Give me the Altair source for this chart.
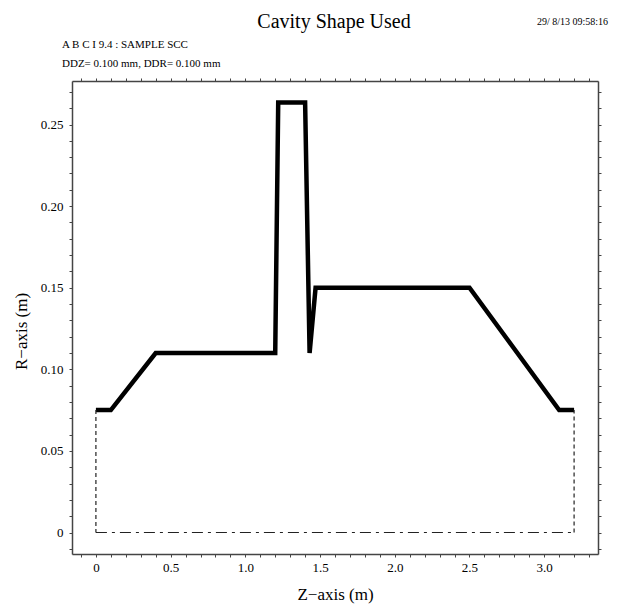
import altair as alt
import pandas as pd

# Cavity profile (z in m, r in m)
z_wall = [0.0, 0.1, 0.4, 1.2, 1.22, 1.4, 1.43, 1.47, 2.5, 3.1, 3.2]
r_wall = [0.075, 0.075, 0.11, 0.11, 0.2635, 0.2635, 0.11, 0.15, 0.15, 0.075, 0.075]

# Dashed end lines and dash-dot axis line
z_left = [0.0, 0.0]
r_left = [0.075, 0.0]
z_right = [3.2, 3.2]
r_right = [0.0, 0.075]
z_axisline = [0.0, 3.2]
r_axisline = [0.0, 0.0]

x_ticks = [round(-0.1 + 0.1 * i, 1) for i in range(35)]
y_ticks = [round(-0.01 + 0.01 * i, 2) for i in range(29)]

title_text = "Cavity Shape Used"
date_text = "29/ 8/13  09:58:16"
info1 = "A B C I 9.4 :  SAMPLE SCC"
info2 = "DDZ= 0.100 mm,  DDR= 0.100 mm"

FONT = "Liberation Serif"

wall = pd.DataFrame({"z": z_wall, "r": r_wall, "i": range(len(z_wall))})
left = pd.DataFrame({"z": z_left, "r": r_left, "i": [0, 1]})
right = pd.DataFrame({"z": z_right, "r": r_right, "i": [0, 1]})
axl = pd.DataFrame({"z": z_axisline, "r": r_axisline, "i": [0, 1]})

xs = alt.Scale(domain=[-0.16, 3.36], nice=False, zero=False)
ys = alt.Scale(domain=[-0.013175, 0.276675], nice=False, zero=False)

common_axis = dict(
    grid=False, domainColor="#444", domainWidth=1.5, tickColor="#444",
    tickSize=3, labelFont=FONT, labelFontSize=13, labelColor="black",
    titleFont=FONT, titleFontSize=17, titleFontWeight="normal", titleColor="black",
)

x_bottom = alt.Axis(
    orient="bottom", values=x_ticks, labelPadding=4,
    labelExpr="round(datum.value*10) % 5 == 0 ? (datum.value == 0 ? '0' : format(datum.value, '.1f')) : ''",
    title="Z\u2212axis (m)", titlePadding=12, **common_axis)
y_left = alt.Axis(
    orient="left", values=y_ticks, labelPadding=6,
    labelExpr="round(datum.value*100) % 5 == 0 ? (datum.value == 0 ? '0' : format(datum.value, '.2f')) : ''",
    title="R\u2212axis (m)", titlePadding=10, titleY=250, **common_axis)
x_top = alt.Axis(orient="top", values=x_ticks, labels=False, title=None,
                 grid=False, domainColor="#444", domainWidth=1.5, tickColor="#444", tickSize=3)
y_right = alt.Axis(orient="right", values=y_ticks, labels=False, title=None,
                   grid=False, domainColor="#444", domainWidth=1.5, tickColor="#444", tickSize=3)

wall_line = alt.Chart(wall).mark_line(color="black", strokeWidth=4.5, strokeJoin="miter").encode(
    x=alt.X("z:Q", scale=xs, axis=x_bottom),
    y=alt.Y("r:Q", scale=ys, axis=y_left),
    order="i:Q",
)

def dashed(df, dash, w=1.2):
    return alt.Chart(df).mark_line(color="#222", strokeWidth=w, strokeDash=dash).encode(
        x=alt.X("z:Q", scale=xs, axis=None),
        y=alt.Y("r:Q", scale=ys, axis=None),
        order="i:Q",
    )

left_l = dashed(left, [4, 3])
right_l = dashed(right, [4, 3])
axis_l = dashed(axl, [11, 5, 3, 5])

frame = alt.Chart(wall).mark_point(opacity=0).encode(
    x=alt.X("z:Q", scale=xs, axis=x_top),
    y=alt.Y("r:Q", scale=ys, axis=y_right),
)

one = pd.DataFrame({"a": [0]})
def label(txt, x, y, size, align="left"):
    return alt.Chart(one).mark_text(
        text=txt, font=FONT, fontSize=size, align=align, baseline="alphabetic", color="black"
    ).encode(x=alt.value(x), y=alt.value(y))

texts = [
    label(title_text, 262, -53, 20, "center"),
    label(date_text, 536, -56, 10, "right"),
    label(info1, -10, -33, 11),
    label(info2, -10, -14, 11),
]

chart = alt.layer(wall_line, frame, left_l, right_l, axis_l, *texts).resolve_axis(
    x="independent", y="independent"
).properties(
    width=526, height=473,
    autosize=alt.AutoSizeParams(type="none"),
    padding={"left": 64, "top": 73, "right": 24, "bottom": 50},
).configure_view(stroke=None).configure(background="white")

chart.save("out.html", embed_options={"renderer": "svg", "actions": False})
